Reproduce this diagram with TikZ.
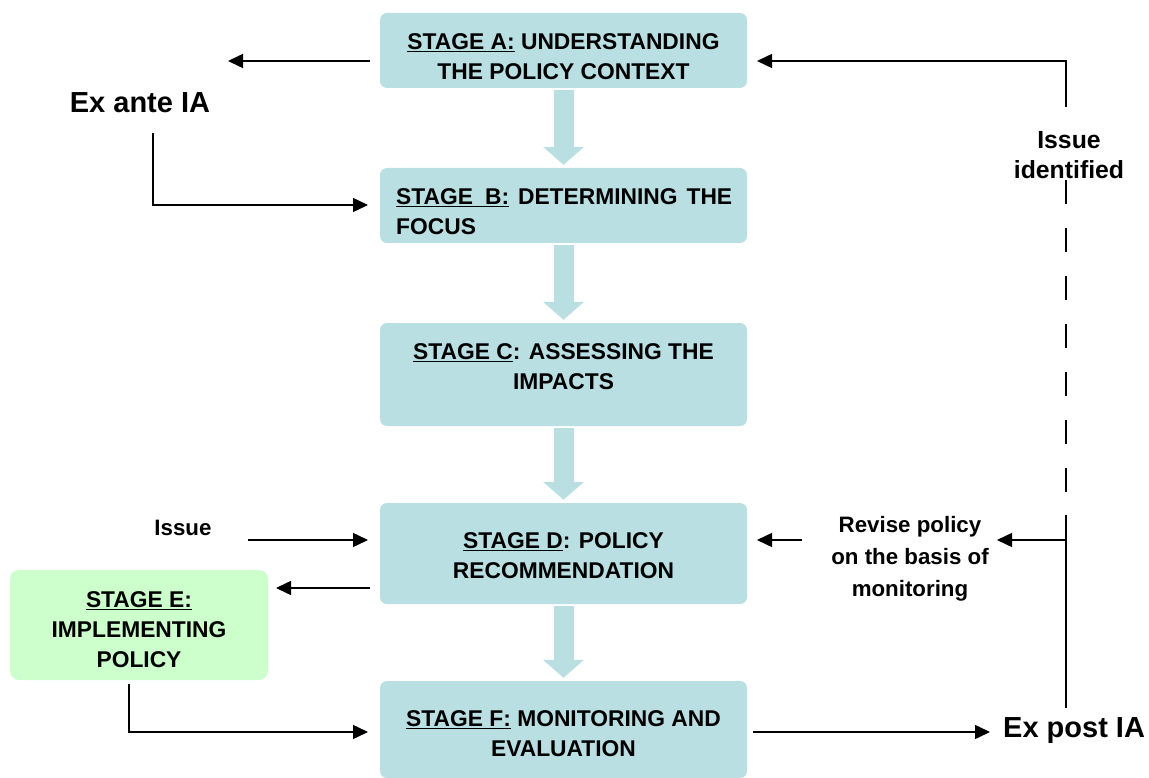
\documentclass[tikz,border=0pt]{standalone}
\usepackage{fontspec}
\setmainfont{Liberation Sans}
\usetikzlibrary{arrows.meta,calc}
\definecolor{stagefill}{HTML}{B9DFE3}
\definecolor{egreen}{HTML}{CCFFCC}
\tikzset{
  stagebox/.style={fill=stagefill, rounded corners=7pt, draw=none, inner sep=0pt},
  ebox/.style={fill=egreen, rounded corners=9pt, draw=none, inner sep=0pt},
  stagetext/.style={align=center, inner sep=0pt, font=\fontsize{22.8}{30}\selectfont\bfseries},
  smalltext/.style={align=center, inner sep=0pt, font=\fontsize{22.3}{32}\selectfont\bfseries},
  bigtext/.style={inner sep=0pt, font=\fontsize{29}{34}\selectfont\bfseries},
  conn/.style={line width=1.5pt, -{Triangle[length=15pt,width=14pt]}},
  plainline/.style={line width=1.5pt},
  dashline/.style={line width=1.5pt, dash pattern=on 24pt off 24pt},
  blockarrow/.style={draw=stagefill, line width=20pt, -{Triangle[length=18pt,width=40pt]}},
}
\begin{document}
\begin{tikzpicture}[x=1pt,y=-1pt]
\useasboundingbox (0,0) rectangle (1149,778);
% stage boxes
\node[stagebox, minimum width=367pt, minimum height=75pt] (A) at (563.5,50.5) {};
\node[stagebox, minimum width=367pt, minimum height=75pt] (B) at (563.5,205.5) {};
\node[stagebox, minimum width=367pt, minimum height=103pt] (C) at (563.5,374.5) {};
\node[stagebox, minimum width=367pt, minimum height=101pt] (D) at (563.5,553.5) {};
\node[stagebox, minimum width=367pt, minimum height=97pt] (F) at (563.5,729.5) {};
\node[ebox, minimum width=258pt, minimum height=110pt] (E) at (139,625) {};
% stage texts
\node[stagetext] (At) at (563.5,57) {\underline{STAGE A:} UNDERSTANDING\\THE POLICY CONTEXT};
\node[stagetext, anchor=west, align=left] (Bt) at (396,211.5) {\hbox to 336pt{\underline{STAGE\hspace{12pt}B:}\hfill DETERMINING\hfill THE}\\FOCUS};
\node[stagetext] (Ct) at (563.5,367) {\underline{STAGE C}: ASSESSING THE\\IMPACTS};
\node[stagetext] (Dt) at (563.5,556) {\underline{STAGE D}: POLICY\\RECOMMENDATION};
\node[stagetext] (Et) at (139,630) {\underline{STAGE E:}\\IMPLEMENTING\\POLICY};
\node[stagetext] (Ft) at (563.5,733.5) {\underline{STAGE F:} MONITORING AND\\EVALUATION};
% block arrows
\draw[blockarrow] ([yshift=-2pt]A.south) -- ([yshift=3pt]B.north);
\draw[blockarrow] ([yshift=-2pt]B.south) -- ([yshift=3pt]C.north);
\draw[blockarrow] ([yshift=-2pt]C.south) -- ([yshift=3pt]D.north);
\draw[blockarrow] ([yshift=-2pt]D.south) -- ([yshift=3pt]F.north);
% labels
\node[bigtext] (exante) at (140,103) {Ex ante IA};
\node[bigtext, anchor=west] (expost) at (1003,731) {Ex post IA};
\node[align=center, inner sep=0pt, font=\fontsize{24.8}{30}\selectfont\bfseries] (issueid) at (1069,155) {Issue\\identified};
\node[smalltext] (revise) at (910,559) {Revise policy\\on the basis of\\monitoring};
\node[smalltext] (issue) at (183,528) {Issue};
% coordinates
\coordinate (a1) at (370,61);
\coordinate (a2) at (228,61);
\coordinate (x1) at (153,133);
\coordinate (b1) at (368,205);
\coordinate (r1) at (1066,107);
\coordinate (r2) at (757,61);
\coordinate (d1) at (1066,180);
\coordinate (d2) at (1066,493);
\coordinate (s1) at (1066,515);
\coordinate (s2) at (1066,708);
\coordinate (v1) at (1066,540);
\coordinate (v2) at (997,540);
\coordinate (w1) at (802,540);
\coordinate (w2) at (757,540);
\coordinate (i1) at (248,540);
\coordinate (i2) at (368,540);
\coordinate (e1) at (370,588);
\coordinate (e2) at (276,588);
\coordinate (g1) at (129,684);
\coordinate (g2) at (368,732);
\coordinate (f1) at (753,732);
\coordinate (f2) at (990,732);
% connectors
\draw[conn] (a1) -- (a2);
\draw[conn] (x1) |- (b1);
\draw[conn] (r1) |- (r2);
\draw[dashline] (d1) -- (d2);
\draw[plainline] (s1) -- (s2);
\draw[conn] (v1) -- (v2);
\draw[conn] (w1) -- (w2);
\draw[conn] (i1) -- (i2);
\draw[conn] (e1) -- (e2);
\draw[conn] (g1) |- (g2);
\draw[conn] (f1) -- (f2);
\end{tikzpicture}
\end{document}
